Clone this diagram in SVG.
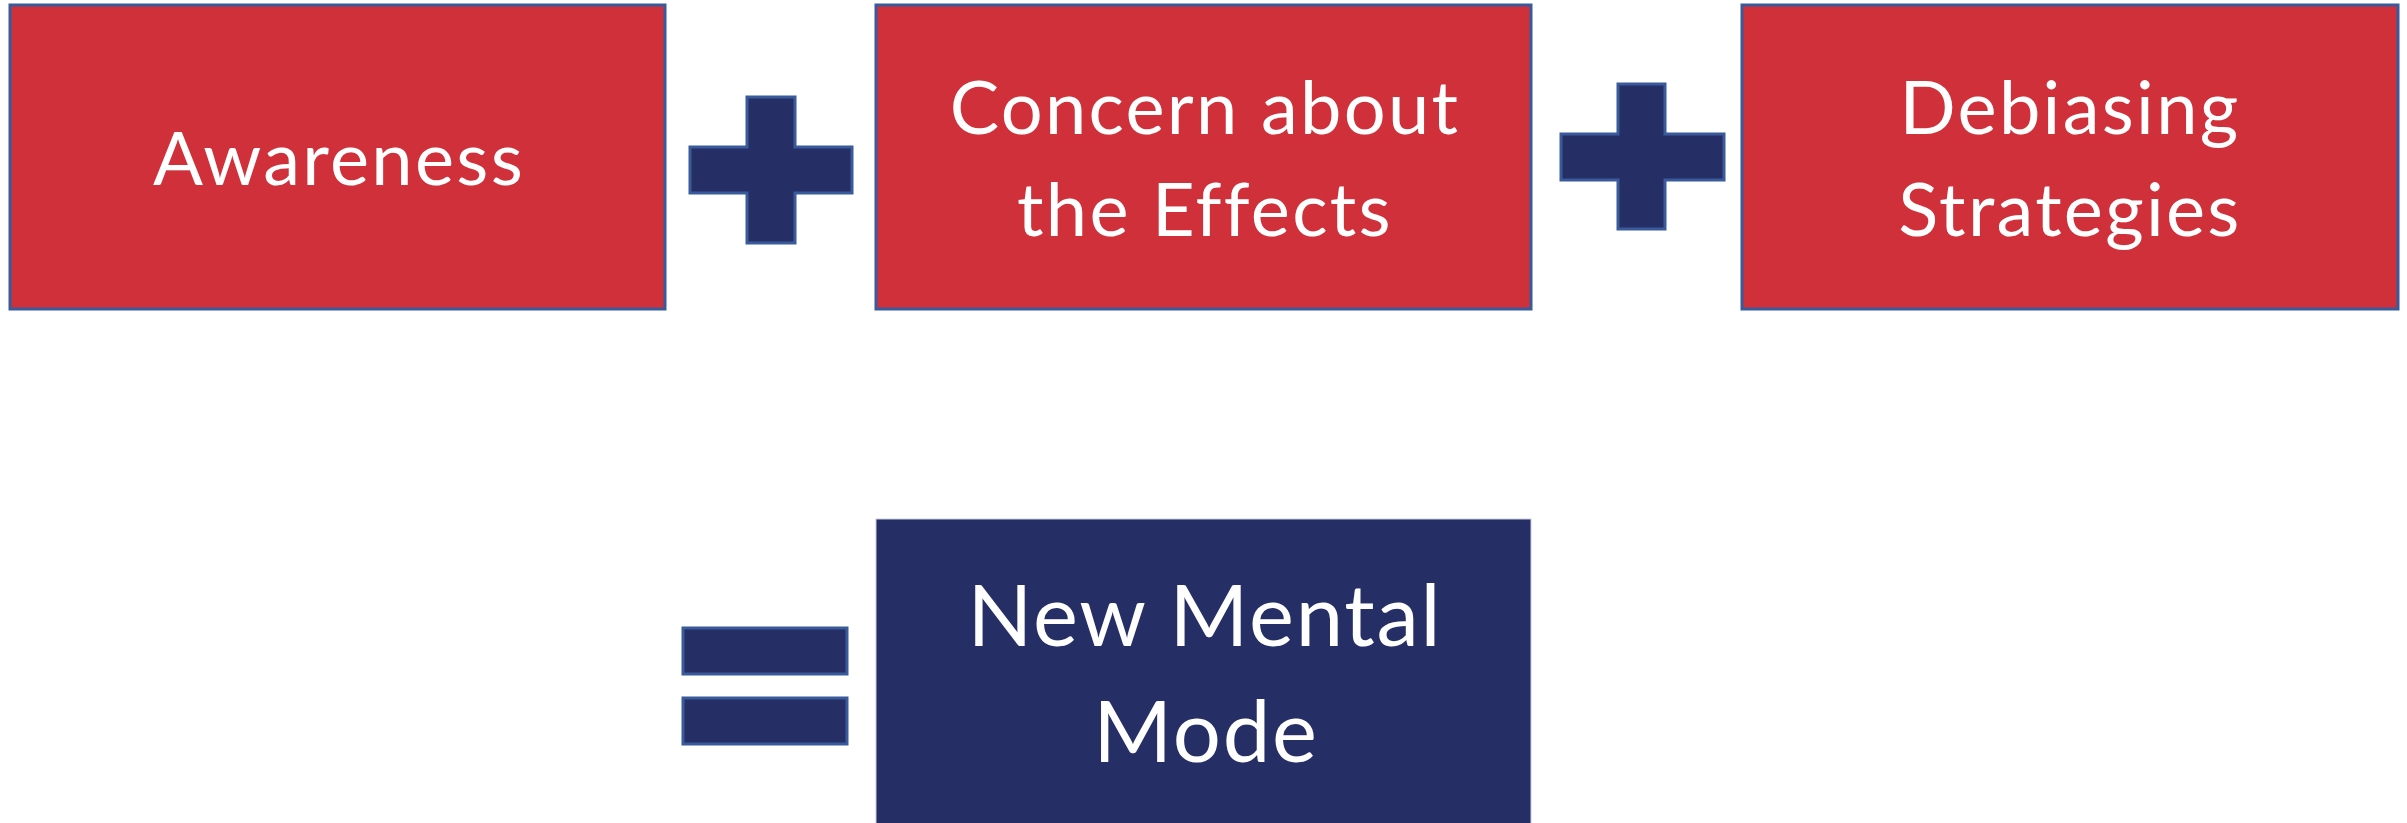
<svg xmlns="http://www.w3.org/2000/svg" width="2407" height="823" viewBox="0 0 2407 823">
<style>
.red{fill:#D0303A;stroke:#3A5B9B;stroke-width:3}
.navy{fill:#252F66;stroke:#3A5B9B;stroke-width:3}
.lbl{font-family:Lato,"Liberation Sans",sans-serif;font-size:74px;letter-spacing:2.3px;fill:#FFFFFF;text-anchor:middle}
.big{font-size:85px;letter-spacing:1.8px}
</style>
<rect width="2407" height="823" fill="#FFFFFF"/>
<g id="awareness">
<rect class="red" x="10" y="5" width="655" height="304"/>
<text class="lbl" x="339" y="185">Awareness</text>
</g>
<g id="plus1">
<path class="navy" d="M747 97H795V147H852V193H795V243H747V193H690V147H747Z"/>
</g>
<g id="concern">
<rect class="red" x="876" y="5" width="655" height="304"/>
<text class="lbl" x="1205" y="134">Concern about</text>
<text class="lbl" x="1205" y="236">the Effects</text>
</g>
<g id="plus2">
<path class="navy" d="M1618 84H1665V134H1724V180H1665V229H1618V180H1561V134H1618Z"/>
</g>
<g id="debiasing">
<rect class="red" x="1742" y="5" width="656" height="304"/>
<text class="lbl" x="2070" y="134">Debiasing</text>
<text class="lbl" x="2070" y="236">Strategies</text>
</g>
<g id="equals">
<rect class="navy" x="683" y="628" width="164" height="46"/>
<rect class="navy" x="683" y="698" width="164" height="46"/>
</g>
<g id="newmodel">
<rect class="navy" x="876" y="519" width="655" height="310" style="stroke:#C9CCE0;stroke-width:1"/>
<text class="lbl big" x="1205" y="646">New Mental</text>
<text class="lbl big" x="1206" y="762">Mode</text>
</g>
<g id="connectors"></g>
</svg>
